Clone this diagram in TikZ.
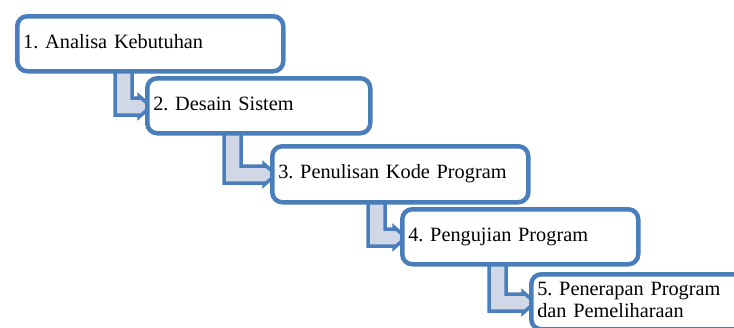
\documentclass[tikz,border=0pt]{standalone}
\usepackage{fontspec}
\setmainfont{Liberation Serif}
\frenchspacing
\usetikzlibrary{calc,backgrounds}
\definecolor{stepblue}{HTML}{4A7EBB}
\definecolor{steplight}{HTML}{D0D8E8}
\tikzset{
  stepbox/.style={draw=stepblue,line width=4.5pt,rounded corners=10pt,fill=white,
    anchor=north west,inner xsep=6pt,inner ysep=0pt,align=left,
    font=\fontsize{20.3}{22}\selectfont},
  bendarrow/.style={draw=stepblue,fill=steplight,line width=3.5pt,line join=miter},
}
\newcommand{\bendconn}[3]{%
  \draw[bendarrow] let \p1=(#1.south west), \p2=(#2.north west) in
    (\x1+#3pt,\y1+6pt) -- (\x1+#3pt,\y2-39pt) -- (\x2-6pt,\y2-39pt)
    -- (\x2-6pt,\y2-41pt) -- (\x2+6pt,\y2-30.5pt) -- (\x2-6pt,\y2-20pt)
    -- (\x2-6pt,\y2-22pt) -- (\x1+#3pt+17pt,\y2-22pt)
    -- (\x1+#3pt+17pt,\y1+6pt) -- cycle;}

\begin{document}
\begin{tikzpicture}[x=1pt,y=-1pt]
\useasboundingbox (0,0) rectangle (734,327);
\clip (0,0) rectangle (734,327);
\node (s1) at (15,14) [stepbox,minimum width=266,minimum height=55,text width=254pt] {\strut 1. Analisa Kebutuhan};
\node (s2) at (145,76) [stepbox,minimum width=223,minimum height=55,text width=211pt] {\strut 2. Desain Sistem};
\node (s3) at (270,144) [stepbox,minimum width=256,minimum height=56,text width=244pt] {\strut 3. Penulisan Kode Program};
\node (s4) at (400,207) [stepbox,minimum width=236,minimum height=55,text width=224pt] {\strut 4. Pengujian Program};
\node (s5) at (529,272) [stepbox,minimum width=240,minimum height=55,text width=228pt] {\strut 5. Penerapan Program\\dan Pemeliharaan\strut};
\begin{scope}[on background layer]
\bendconn{s1}{s2}{100}
\bendconn{s2}{s3}{79}
\bendconn{s3}{s4}{98}
\bendconn{s4}{s5}{89}
\end{scope}
\end{tikzpicture}
\end{document}
